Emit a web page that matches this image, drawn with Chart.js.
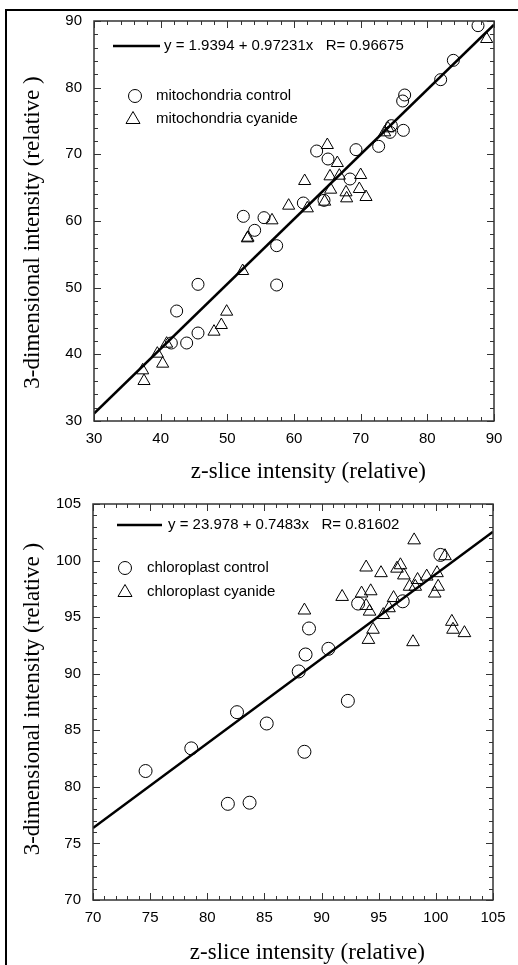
<!DOCTYPE html>
<html lang="en">
  <head>
    <meta charset="UTF-8" />
    <title>3-dimensional vs z-slice intensity</title>
    <style>
      body { margin: 0; background: #fff; }
      .page { position: relative; width: 518px; height: 965px; overflow: hidden; }
      .frame {
        position: absolute; left: 5px; top: 9px; right: -10px; bottom: -10px;
        border-top: 2px solid #000; border-left: 2px solid #000;
      }
      canvas { position: absolute; left: 0; }
      #mitoChart { top: 0; }
      #chloroChart { top: 483px; }
    </style>
  </head>
  <body>
    <div class="page">
      <div class="frame"></div>
      <canvas id="mitoChart" width="518" height="483"></canvas>
      <canvas id="chloroChart" width="518" height="482"></canvas>
    </div>

    <script src="https://cdn.jsdelivr.net/npm/chart.js"></script>
    <script>
      // mitochondria (top panel)
      var mitoTicks = [30, 40, 50, 60, 70, 80, 90];
      var mitoControlX = [87.6, 83.9, 82.0, 76.6, 76.3, 76.4, 74.6, 74.4, 72.7, 69.3, 63.4, 65.1, 68.4,
        61.4, 64.5, 52.4, 55.5, 54.1, 57.4, 57.4, 45.6, 42.4, 45.6, 43.9, 41.6];
      var mitoControlY = [89.3, 84.1, 81.2, 78.9, 78.0, 73.6, 74.3, 73.3, 71.2, 70.7, 70.5, 69.3, 66.3,
        62.7, 63.1, 60.7, 60.5, 58.6, 56.3, 50.4, 50.5, 46.5, 43.2, 41.7, 41.7];
      var mitoCyanideX = [88.9, 73.6, 74.1, 65.0, 66.5, 65.4, 66.8, 70.0, 61.6, 65.5, 67.8, 69.8, 67.9,
        70.8, 59.2, 62.0, 64.6, 56.7, 53.0, 53.1, 52.3, 49.9, 49.1, 48.0, 40.9, 39.5, 40.3, 37.3, 37.5];
      var mitoCyanideY = [87.3, 73.3, 73.9, 71.4, 68.7, 66.7, 66.8, 66.9, 66.0, 64.7, 64.3, 64.8, 63.4,
        63.6, 62.3, 61.9, 62.9, 60.1, 57.4, 57.5, 52.5, 46.4, 44.4, 43.4, 41.6, 40.1, 38.6, 37.6, 36.0];
      var mitoFitX = [30, 90];
      var mitoFitY = [31.11, 89.45];

      // chloroplast (bottom panel)
      var chloroTicks = [70, 75, 80, 85, 90, 95, 100, 105];
      var chloroControlX = [74.6, 78.6, 82.6, 81.8, 83.7, 85.2, 88.5, 88.0, 88.6, 88.9, 90.6, 92.3, 93.2, 97.1, 100.4];
      var chloroControlY = [81.4, 83.4, 86.6, 78.5, 78.6, 85.6, 83.1, 90.2, 91.7, 94.0, 92.2, 87.6, 96.2, 96.4, 100.5];
      var chloroCyanideX = [98.1, 88.5, 91.8, 93.5, 93.9, 94.3, 93.9, 94.2, 94.5, 94.1, 95.2, 95.4, 95.9, 96.3,
        96.6, 96.9, 97.2, 97.7, 98.2, 98.4, 99.2, 98.0, 100.1, 100.2, 99.9, 100.8, 101.4, 101.5, 102.5];
      var chloroCyanideY = [101.8, 95.6, 96.8, 97.1, 99.4, 97.3, 96.0, 95.5, 93.9, 93.0, 98.9, 95.2, 95.8, 96.7,
        99.3, 99.6, 98.7, 97.7, 97.7, 98.3, 98.6, 92.8, 98.9, 97.7, 97.1, 100.4, 94.6, 93.9, 93.6];
      var chloroFitX = [70, 105];
      var chloroFitY = [76.36, 102.55];

      Chart.defaults.color = "#000";
      Chart.defaults.font.family = "'Liberation Sans', Arial, sans-serif";

      function pts(xs, ys) {
        return xs.map(function (x, i) {
          return { x: x, y: ys[i] };
        });
      }

      // inward ticks on all four sides + plot box
      var boxTicks = {
        id: "boxTicks",
        afterDraw: function (chart, args, o) {
          var ctx = chart.ctx;
          var a = chart.chartArea;
          var xs = chart.scales.x;
          var ys = chart.scales.y;
          var n = Math.round((xs.max - xs.min) / o.minor);
          ctx.save();
          ctx.strokeStyle = "#333";
          ctx.lineWidth = 1;
          ctx.beginPath();
          for (var i = 0; i <= n; i++) {
            var v = xs.min + i * o.minor;
            var len = i % o.every === 0 ? 7 : 4;
            var px = Math.round(xs.getPixelForValue(v)) + 0.5;
            ctx.moveTo(px, a.bottom);
            ctx.lineTo(px, a.bottom - len);
            ctx.moveTo(px, a.top);
            ctx.lineTo(px, a.top + len);
            var py = Math.round(ys.getPixelForValue(ys.min + i * o.minor)) + 0.5;
            ctx.moveTo(a.left, py);
            ctx.lineTo(a.left + len, py);
            ctx.moveTo(a.right, py);
            ctx.lineTo(a.right - len, py);
          }
          ctx.stroke();
          ctx.lineWidth = 1.5;
          ctx.strokeRect(a.left, a.top, a.right - a.left, a.bottom - a.top);
          ctx.restore();
        },
      };

      // equation + marker legend inside the plot
      var fitLegend = {
        id: "fitLegend",
        afterDraw: function (chart, args, o) {
          var ctx = chart.ctx;
          ctx.save();
          ctx.strokeStyle = "#000";
          ctx.fillStyle = "#000";
          ctx.lineWidth = 2.5;
          ctx.beginPath();
          ctx.moveTo(o.lineFrom, o.lineY);
          ctx.lineTo(o.lineTo, o.lineY);
          ctx.stroke();
          ctx.font = "15px 'Liberation Sans', Arial, sans-serif";
          ctx.textBaseline = "middle";
          ctx.textAlign = "left";
          ctx.fillText(o.equation, o.textX, o.lineY);
          ctx.lineWidth = 1;
          o.entries.forEach(function (e) {
            ctx.beginPath();
            if (e.marker === "circle") {
              ctx.arc(e.x, e.y, 6.5, 0, Math.PI * 2);
            } else {
              ctx.moveTo(e.x, e.y - 7.5);
              ctx.lineTo(e.x + 7, e.y + 4.5);
              ctx.lineTo(e.x - 7, e.y + 4.5);
              ctx.closePath();
            }
            ctx.stroke();
            ctx.fillText(e.label, e.textX, e.y);
          });
          ctx.restore();
        },
      };

      function axis(tickValues, size, labelPad, title, titlePad) {
        return {
          type: "linear",
          min: tickValues[0],
          max: tickValues[tickValues.length - 1],
          afterBuildTicks: function (s) {
            s.ticks = tickValues.map(function (v) {
              return { value: v };
            });
          },
          afterFit: function (s) {
            if (s.isHorizontal()) s.height = size;
            else s.width = size;
          },
          grid: { display: false, drawTicks: false },
          border: { display: false },
          ticks: { padding: labelPad, font: { size: 15 } },
          title: {
            display: true,
            text: title,
            font: { family: "'Liberation Serif', 'Times New Roman', serif", size: 23, lineHeight: 1 },
            padding: titlePad,
          },
        };
      }

      function makeChart(id, s) {
        var ctx = document.getElementById(id).getContext("2d");
        return new Chart(ctx, {
          type: "scatter",
          data: {
            datasets: [
              {
                label: s.fitLabel,
                data: pts(s.fitX, s.fitY),
                showLine: true,
                borderColor: "#000",
                borderWidth: 2.5,
                pointRadius: 0,
              },
              {
                label: s.controlLabel,
                data: pts(s.controlX, s.controlY),
                pointStyle: "circle",
                pointRadius: s.circleR,
                borderColor: "#000",
                backgroundColor: "rgba(0,0,0,0)",
                borderWidth: 1,
              },
              {
                label: s.cyanideLabel,
                data: pts(s.cyanideX, s.cyanideY),
                pointStyle: "triangle",
                pointRadius: s.triR,
                borderColor: "#000",
                backgroundColor: "rgba(0,0,0,0)",
                borderWidth: 1,
              },
            ],
          },
          options: {
            responsive: false,
            animation: false,
            layout: { padding: s.padding },
            scales: {
              x: axis(s.ticks, s.xHeight, 9, s.xTitle, { top: 0, bottom: s.xTitlePad }),
              y: axis(s.ticks, s.yWidth, 12, s.yTitle, { top: 11.5, bottom: 0 }),
            },
            plugins: {
              legend: { display: false },
              tooltip: { enabled: false },
              boxTicks: s.tickOpts,
              fitLegend: s.legend,
            },
          },
          plugins: [boxTicks, fitLegend],
        });
      }

      makeChart("mitoChart", {
        ticks: mitoTicks,
        fitX: mitoFitX, fitY: mitoFitY,
        controlX: mitoControlX, controlY: mitoControlY,
        cyanideX: mitoCyanideX, cyanideY: mitoCyanideY,
        fitLabel: "y = 1.9394 + 0.97231x   R= 0.96675",
        controlLabel: "mitochondria control",
        cyanideLabel: "mitochondria cyanide",
        circleR: 6, triR: 7,
        padding: { left: 10, top: 20, right: 24, bottom: 0 },
        xHeight: 62, yWidth: 84, xTitlePad: 0,
        xTitle: "     z-slice intensity (relative)",
        yTitle: "3-dimensional intensity (relative )    ",
        tickOpts: { minor: 2, every: 5 },
        legend: {
          lineFrom: 113, lineTo: 160, lineY: 46, textX: 164,
          equation: "y = 1.9394 + 0.97231x   R= 0.96675",
          entries: [
            { marker: "circle", x: 135, y: 96, textX: 156, label: "mitochondria control" },
            { marker: "triangle", x: 133, y: 119, textX: 156, label: "mitochondria cyanide" },
          ],
        },
      });

      makeChart("chloroChart", {
        ticks: chloroTicks,
        fitX: chloroFitX, fitY: chloroFitY,
        controlX: chloroControlX, controlY: chloroControlY,
        cyanideX: chloroCyanideX, cyanideY: chloroCyanideY,
        fitLabel: "y = 23.978 + 0.7483x   R= 0.81602",
        controlLabel: "chloroplast control",
        cyanideLabel: "chloroplast cyanide",
        circleR: 6.5, triR: 7.3,
        padding: { left: 10, top: 17, right: 25, bottom: 0 },
        xHeight: 65, yWidth: 83, xTitlePad: 0.5,
        xTitle: "     z-slice intensity (relative)",
        yTitle: " 3-dimensional intensity (relative )",
        tickOpts: { minor: 1, every: 5 },
        legend: {
          lineFrom: 117, lineTo: 162, lineY: 42, textX: 168,
          equation: "y = 23.978 + 0.7483x   R= 0.81602",
          entries: [
            { marker: "circle", x: 125, y: 85, textX: 147, label: "chloroplast control" },
            { marker: "triangle", x: 125, y: 109, textX: 147, label: "chloroplast cyanide" },
          ],
        },
      });
    </script>
  </body>
</html>
